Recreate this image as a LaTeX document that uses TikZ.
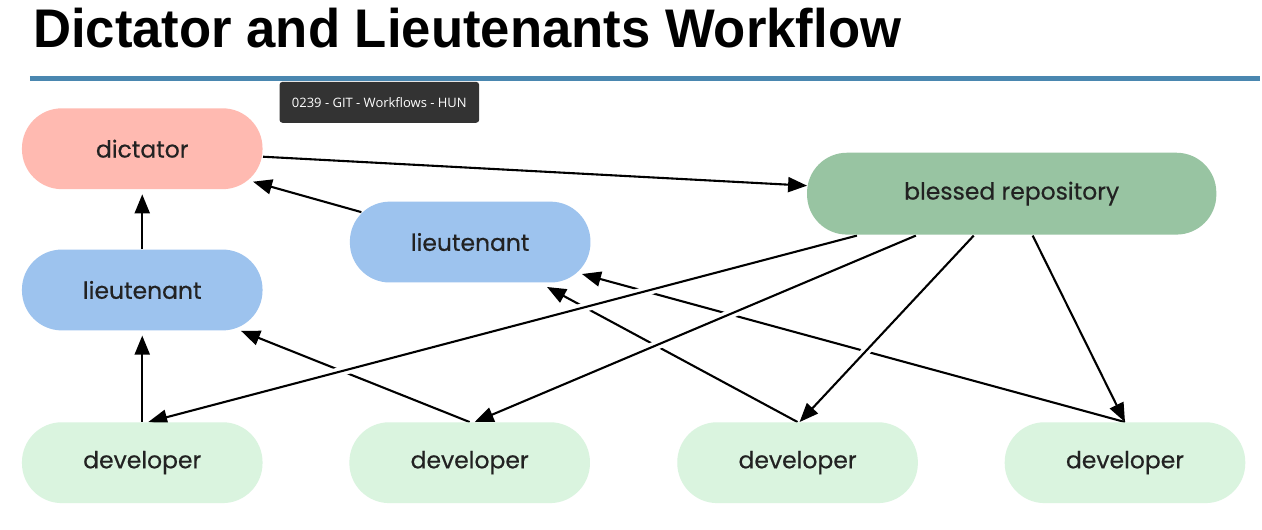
\documentclass[tikz,border=0pt]{standalone}
\usepackage{fontspec}
\setmainfont{Poppins}[FakeBold=0.5]
\newfontfamily\titlefont{Liberation Sans}
\newfontfamily\tipfont{Open Sans}
\usetikzlibrary{arrows.meta,calc}
\definecolor{dictc}{HTML}{FFBAB1}
\definecolor{ltc}{HTML}{9DC3EE}
\definecolor{blc}{HTML}{98C4A2}
\definecolor{devc}{HTML}{DAF4DF}
\definecolor{txt}{HTML}{222222}
\definecolor{titleline}{HTML}{4A87B0}
\definecolor{tipbg}{HTML}{333333}
\pgfdeclarelayer{bg}
\pgfsetlayers{bg,main}
\begin{document}
\begin{tikzpicture}[x=1pt,y=-1pt,
  pill/.style={rectangle, rounded corners=40pt, minimum width=241pt, minimum height=81pt, inner sep=0pt, text=txt, font=\fontsize{23.5}{25}\selectfont},
  arr/.style={line width=2.1pt, -{Triangle[length=19pt,width=15pt]}},
  halo/.style={preaction={draw=white, line width=9pt, -, shorten >=30pt, shorten <=4pt}}
]
\node[anchor=base west, inner sep=0pt, font=\titlefont\bfseries\fontsize{54.5}{56}\selectfont] (title) at (33,47.5) {\scalebox{0.968}[1]{Dictator and Lieutenants Workflow}};
\draw[line width=4.5pt, titleline] (30,78.5) -- (1262,78.5);
\node[fill=tipbg, rounded corners=3pt, minimum width=200pt, minimum height=41pt, inner sep=0pt, text=white, font=\tipfont\fontsize{13}{15}\selectfont] (tip) at (380,102.5) {0239 - GIT - Workflows - HUN};

\node[pill, fill=dictc] (dict) at (142.5,149) {dictator};
\node[pill, fill=ltc] (ltL) at (142.5,290.5) {lieutenant};
\node[pill, fill=ltc] (ltM) at (471,242.5) {lieutenant};
\node[pill, fill=blc, minimum width=410pt, minimum height=82pt] (bless) at (1013.5,194) {blessed repository};
\node[pill, fill=devc] (dev1) at (142.5,463.5) {developer};
\node[pill, fill=devc] (dev2) at (470.5,463.5) {developer};
\node[pill, fill=devc] (dev3) at (799,463.5) {developer};
\node[pill, fill=devc] (dev4) at (1127,463.5) {developer};

\begin{pgfonlayer}{bg}
\fill[white] (0,0) rectangle (1262,530);
\draw[arr] ($(dict.center)+(121,8)$) -- ($(bless.center)+(-205,-8)$);
\draw[arr] ($(ltM.center)+(-109,-30)$) -- ($(dict.center)+(111,33)$);
\draw[arr, shorten >=5pt] (ltL.north) -- (dict.south);
\draw[arr, shorten >=5pt] (dev1.north) -- (ltL.south);
\draw[arr] (dev2.north) -- ($(ltL.center)+(99,41)$);
\draw[arr] (dev3.north) -- ($(ltM.center)+(77,45)$);
\draw[arr] (dev4.north) -- ($(ltM.center)+(112,32)$);
\draw[arr, halo] ($(bless.center)+(-155,42)$) -- ($(dev1.north)+(6,0)$);
\draw[arr, halo] ($(bless.center)+(-96,42)$) -- ($(dev2.north)+(5,0)$);
\draw[arr, halo] ($(bless.center)+(-38,42)$) -- ($(dev3.north)+(2,0)$);
\draw[arr, halo] ($(bless.center)+(21,42)$) -- (dev4.north);
\end{pgfonlayer}
\end{tikzpicture}
\end{document}
